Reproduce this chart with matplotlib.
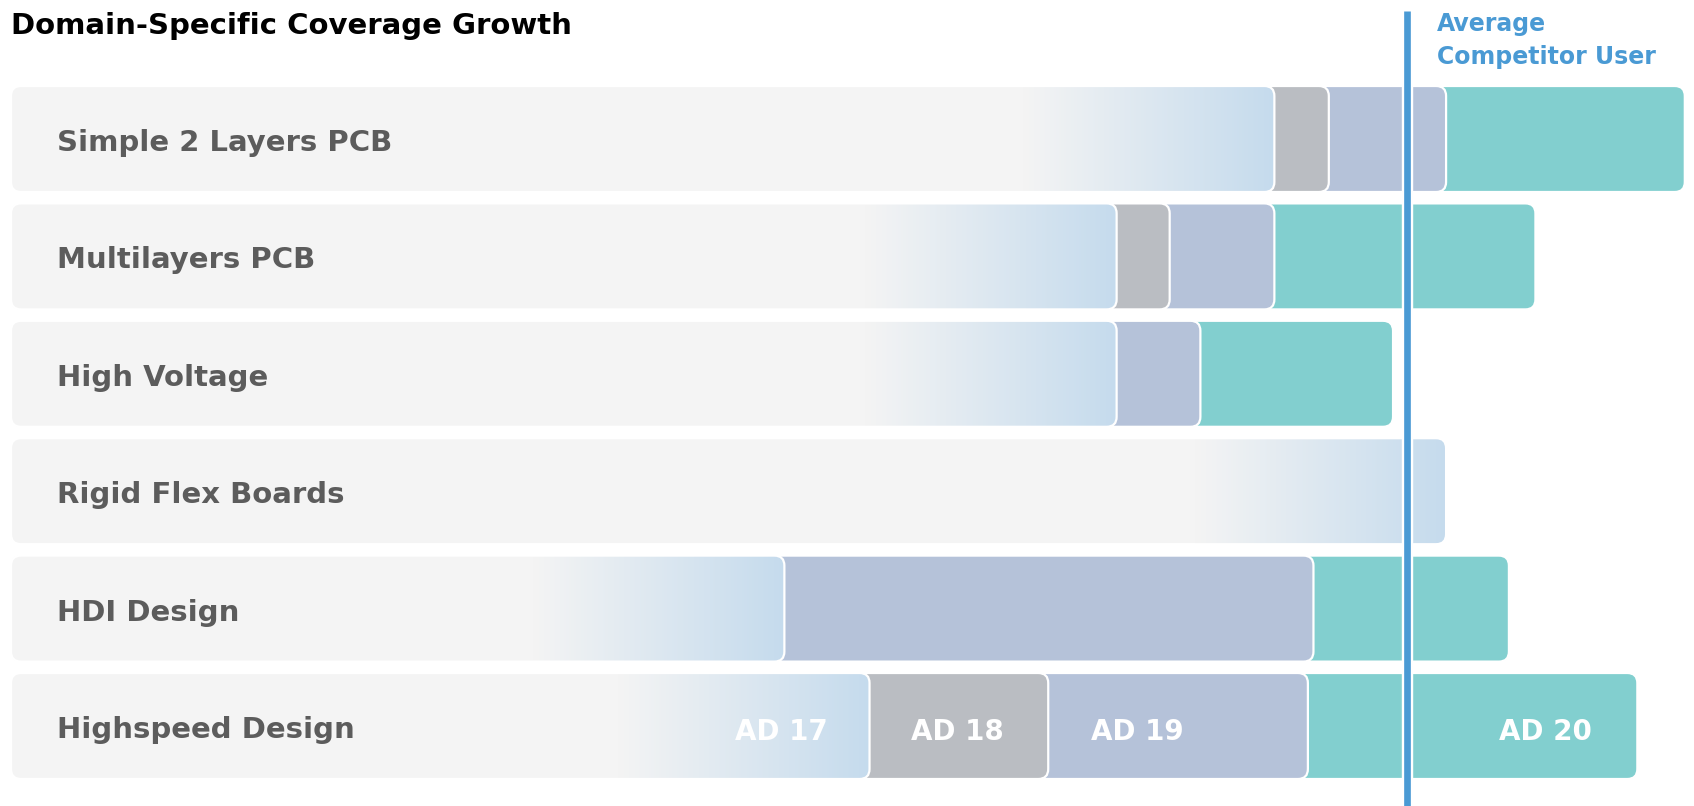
import numpy as np
import matplotlib.pyplot as plt
from matplotlib.patches import FancyBboxPatch
from matplotlib.colors import LinearSegmentedColormap
import matplotlib.patheffects as pe

domains = ["Simple 2 Layers PCB", "Multilayers PCB", "High Voltage",
           "Rigid Flex Boards", "HDI Design", "Highspeed Design"]
versions = ["AD 17", "AD 18", "AD 19", "AD 20"]

# cumulative coverage reached by each release (average competitor user = 100)
ad17 = [90.5, 79.2, 79.2, 102.8, 55.4, 61.5]
ad18 = [94.4, 83.0, 79.2, 102.8, 55.4, 74.3]
ad19 = [102.8, 90.5, 85.2, 102.8, 93.3, 92.9]
ad20 = [119.9, 109.2, 99.0, 102.8, 107.3, 116.5]
competitor_avg = 100

# version labels sit in the last row
label_row = 5
label_x = [55.2, 67.8, 80.7, 109.9]

bg_gray = '#f4f4f4'
col_ad17 = '#c5dbed'
col_ad18 = '#babdc2'
col_ad19 = '#b5c2d9'
col_ad20 = '#82cfcf'
line_blue = '#4a9ad4'
text_gray = '#5c5c5c'
font = ['DejaVu Sans']

W, H = 1694, 806
fig = plt.figure(figsize=(W / 100, H / 100), dpi=100)
ax = fig.add_axes([0, 0, 1, 1])

# pixel geometry of the layout
px_x = 13.96     # pixels per coverage unit
x0 = 11          # pixel of coverage 0
px_y = 117.4     # pixels per row
y0 = 139         # pixel centre of first row
ax.set_xlim(-x0 / px_x, (W - x0) / px_x)
ax.set_ylim((H - y0) / px_y, -y0 / px_y)
ax.axis('off')

bar_h = 106 / px_y
radius = 10 / px_x
aspect = px_x / px_y
grad_len = 18

def rbox(x_end, y, face, z, edge='white'):
    p = FancyBboxPatch((0, y - bar_h / 2), x_end, bar_h,
                       boxstyle="round,pad=0,rounding_size=%f" % radius,
                       mutation_aspect=aspect, facecolor=face,
                       edgecolor=edge, linewidth=1.6, zorder=z)
    ax.add_patch(p)
    return p

cmap = LinearSegmentedColormap.from_list('fade', [bg_gray, col_ad17])
grad = np.linspace(0, 1, 256).reshape(1, -1)

for i, name in enumerate(domains):
    levels = [ad17[i], ad18[i], ad19[i], ad20[i]]
    colors = [col_ad17, col_ad18, col_ad19, col_ad20]
    # longest bar at the back, earlier releases layered in front
    for k in range(3, 0, -1):
        if levels[k] > levels[k - 1]:
            rbox(levels[k], i, colors[k], 2 + (3 - k))
    p = rbox(levels[0], i, bg_gray, 6, edge='none')
    im = ax.imshow(grad, cmap=cmap, aspect='auto', zorder=7,
                   extent=[levels[0] - grad_len, levels[0], i + bar_h / 2, i - bar_h / 2])
    im.set_clip_path(p)
    rbox(levels[0], i, 'none', 8)
    ax.text(46 / px_x, i + 0.102, name, ha='left', va='baseline', fontsize=21,
            fontweight='bold', color=text_gray, family=font, zorder=10)

for v, x in zip(versions, label_x):
    ax.text(x, label_row + 0.115, v, ha='center', va='baseline', fontsize=20,
            fontweight='bold', color='white', family=font, zorder=10)

ax.set_xlim(-x0 / px_x, (W - x0) / px_x)
ax.set_ylim((H - y0) / px_y, -y0 / px_y)

ax.axvline(competitor_avg, ymin=0, ymax=1 - 11 / H, color=line_blue, linewidth=4.8,
           solid_capstyle='butt', zorder=20,
           path_effects=[pe.Stroke(linewidth=8.2, foreground='white', capstyle='butt'), pe.Normal()])

fig.text(11 / W, 1 - 33.5 / H, "Domain-Specific Coverage Growth", ha='left', va='baseline',
         fontsize=21, fontweight='bold', color='black', family=font)
fig.text(1437 / W, 1 - 31 / H, "Average", ha='left', va='baseline',
         fontsize=17, fontweight='bold', color=line_blue, family=font)
fig.text(1437 / W, 1 - 64 / H, "Competitor User", ha='left', va='baseline',
         fontsize=17, fontweight='bold', color=line_blue, family=font)

fig.savefig('out.png', dpi=100, facecolor='white')
